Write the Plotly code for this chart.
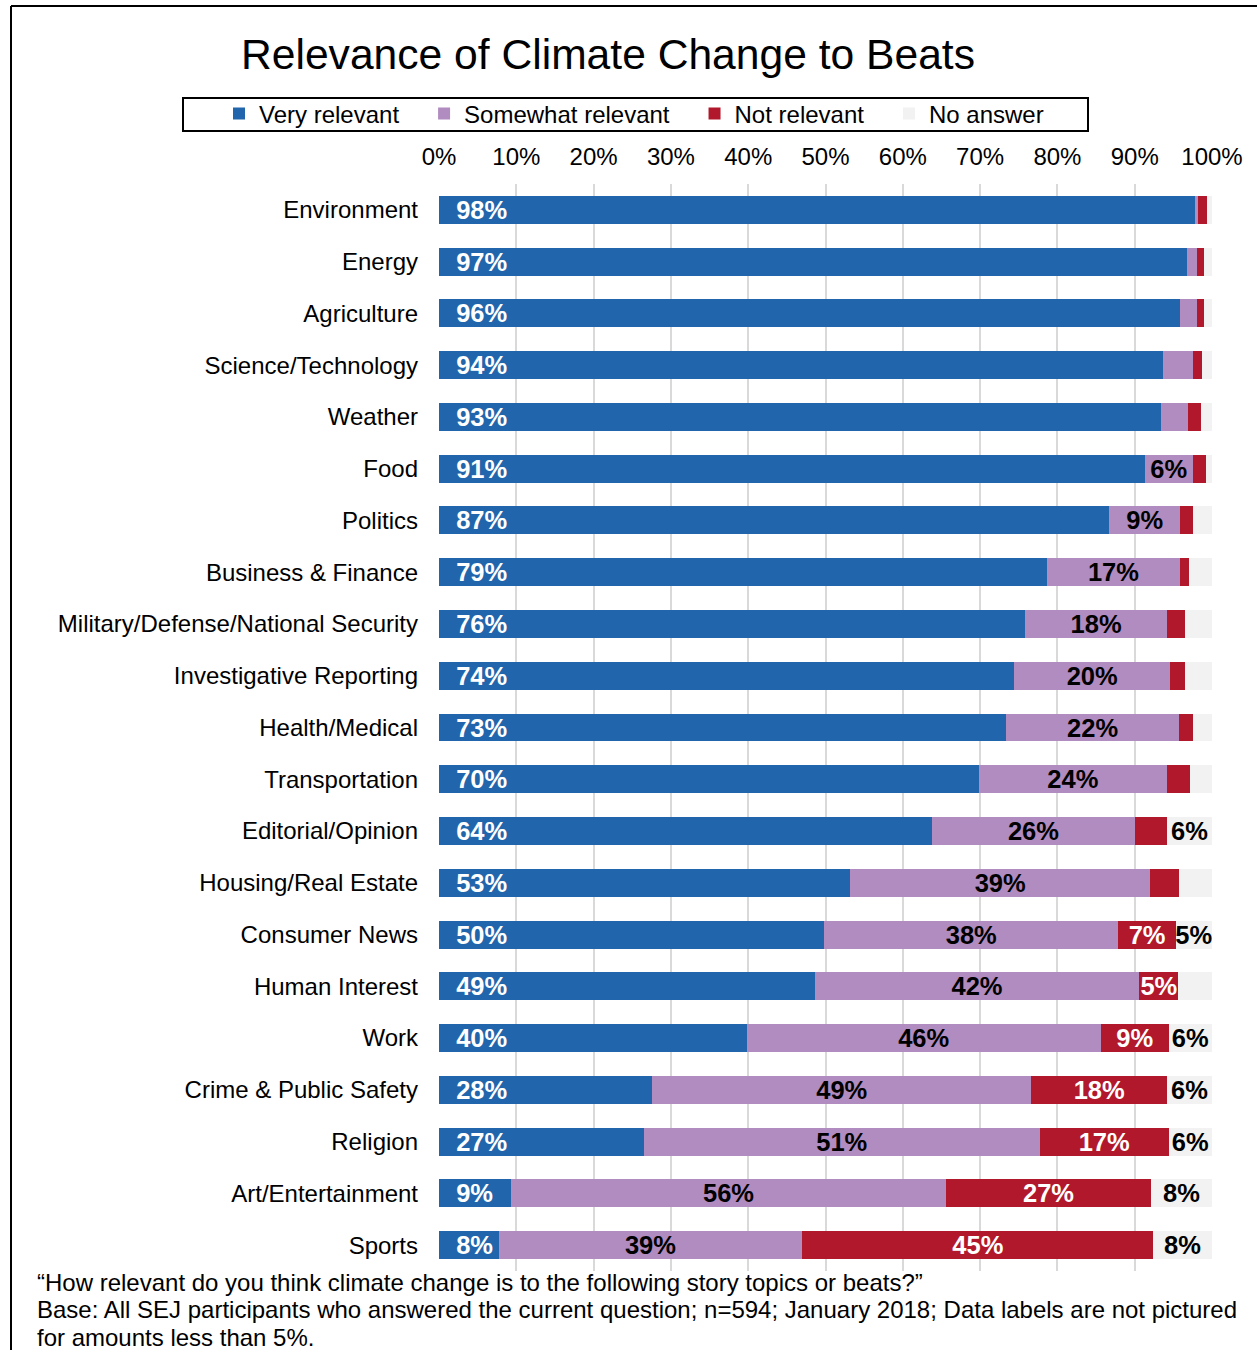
import plotly.graph_objects as go

categories = ["Environment", "Energy", "Agriculture", "Science/Technology", "Weather", "Food",
              "Politics", "Business & Finance", "Military/Defense/National Security",
              "Investigative Reporting", "Health/Medical", "Transportation", "Editorial/Opinion",
              "Housing/Real Estate", "Consumer News", "Human Interest", "Work",
              "Crime & Public Safety", "Religion", "Art/Entertainment", "Sports"]

very_relevant = [97.8, 96.8, 95.8, 93.7, 93.4, 91.3, 86.7, 78.7, 75.8, 74.4, 73.4, 69.8, 63.8,
                 53.2, 49.8, 48.6, 39.8, 27.6, 26.5, 9.35, 7.7]
somewhat_relevant = [0.35, 1.3, 2.3, 3.8, 3.5, 6.2, 9.2, 17.1, 18.4, 20.2, 22.3, 24.4, 26.2,
                     38.8, 38.1, 42.0, 45.8, 49.0, 51.2, 56.2, 39.3]
not_relevant = [1.2, 0.9, 0.9, 1.2, 1.7, 1.7, 1.7, 1.25, 2.3, 1.9, 1.9, 2.9, 4.2,
                3.7, 7.4, 5.05, 8.8, 17.6, 16.7, 26.6, 45.4]
no_answer = [0.6, 0.95, 0.95, 1.25, 1.35, 0.75, 2.35, 2.9, 3.45, 3.45, 2.35, 2.85, 5.75,
             4.25, 4.65, 4.3, 5.55, 5.75, 5.55, 7.8, 7.55]

series_names = ["Very relevant", "Somewhat relevant", "Not relevant", "No answer"]
series_colors = ["#2166AC", "#B08CC0", "#B2182B", "#F2F2F2"]
label_colors = ["white", "black", "white", "black"]
tick_values = [0, 10, 20, 30, 40, 50, 60, 70, 80, 90, 100]
tick_labels = [f"{v}%" for v in tick_values]

title_text = "Relevance of Climate Change to Beats"
footnotes = ["\u201cHow relevant do you think climate change is to the following story topics or beats?\u201d",
             "Base: All SEJ participants who answered the current question; n=594; January 2018; Data labels are not pictured",
             "for amounts less than 5%."]

W, H = 1257, 1350
L, R, T, B = 439, 1212, 184, 1271  # plot area in pixels


def px_x(x):
    return (x - L) / (R - L)


def px_y(y):
    return (B - y) / (B - T)


def label(v, lead=""):
    r = int(v + 0.5)
    return f"{lead}{r}%" if r >= 5 else ""


FONT = "Liberation Sans, Arial, sans-serif"
fig = go.Figure()
all_series = [very_relevant, somewhat_relevant, not_relevant, no_answer]
pad = "\u00a0\u00a0\u00a0"
for i, (name, vals) in enumerate(zip(series_names, all_series)):
    lead = "\u00a0\u00a0" if i == 0 else ""
    fig.add_trace(go.Bar(
        y=categories, x=vals, orientation="h", name=name + (pad if i < 3 else ""),
        marker=dict(color=series_colors[i], line=dict(width=0)),
        text=[label(v, lead) for v in vals],
        textposition="inside",
        insidetextanchor="start" if i == 0 else "middle",
        textangle=0,
        constraintext="none",
        cliponaxis=False,
        textfont=dict(family=FONT, size=25.5, color=label_colors[i], weight="bold"),
        hoverinfo="x+y+name",
    ))

annotations = [dict(text=title_text, x=px_x(608), y=px_y(54), xref="paper", yref="paper",
                    xanchor="center", yanchor="middle", showarrow=False,
                    font=dict(family=FONT, size=42.6, color="black"))]
for j, (txt, yy) in enumerate(zip(footnotes, [1282, 1309, 1337])):
    annotations.append(dict(text=txt, x=px_x(35), y=px_y(yy), xref="paper", yref="paper",
                            xanchor="left", yanchor="middle", showarrow=False,
                            font=dict(family=FONT, size=24, color="black")))

shapes = [
    dict(type="rect", xref="paper", yref="paper", x0=px_x(183), x1=px_x(1088),
         y0=px_y(131), y1=px_y(98), line=dict(color="black", width=2), layer="above"),
    dict(type="line", xref="paper", yref="paper", x0=px_x(11), x1=px_x(11),
         y0=px_y(1400), y1=px_y(6), line=dict(color="black", width=2)),
    dict(type="line", xref="paper", yref="paper", x0=px_x(11), x1=px_x(1300),
         y0=px_y(6), y1=px_y(6), line=dict(color="black", width=2)),
]

fig.update_layout(
    width=W, height=H,
    margin=dict(l=L, r=W - R, t=T, b=H - B, pad=0),
    paper_bgcolor="white", plot_bgcolor="white",
    barmode="stack", bargap=0.46,
    font=dict(family=FONT, size=24, color="black"),
    showlegend=True,
    legend=dict(orientation="h", x=px_x(219), y=px_y(114), xanchor="left", yanchor="middle",
                traceorder="normal", font=dict(family=FONT, size=24, color="black"),
                bgcolor="rgba(0,0,0,0)", borderwidth=0, itemwidth=30),
    xaxis=dict(side="top", range=[0, 100], tickvals=tick_values, ticktext=tick_labels,
               showgrid=True, gridcolor="#D9D9D9", gridwidth=2, zeroline=False,
               showline=False, ticks="", ticklabelstandoff=13,
               tickfont=dict(family=FONT, size=24, color="black"), fixedrange=True),
    yaxis=dict(autorange="reversed", showgrid=False, zeroline=False, showline=False,
               ticks="", ticklabelstandoff=20,
               tickfont=dict(family=FONT, size=24, color="black"), fixedrange=True),
    annotations=annotations, shapes=shapes,
)

fig.write_html("out.html", config={"displayModeBar": False},
               post_script="document.body.style.margin='0';document.body.style.overflow='hidden';")
